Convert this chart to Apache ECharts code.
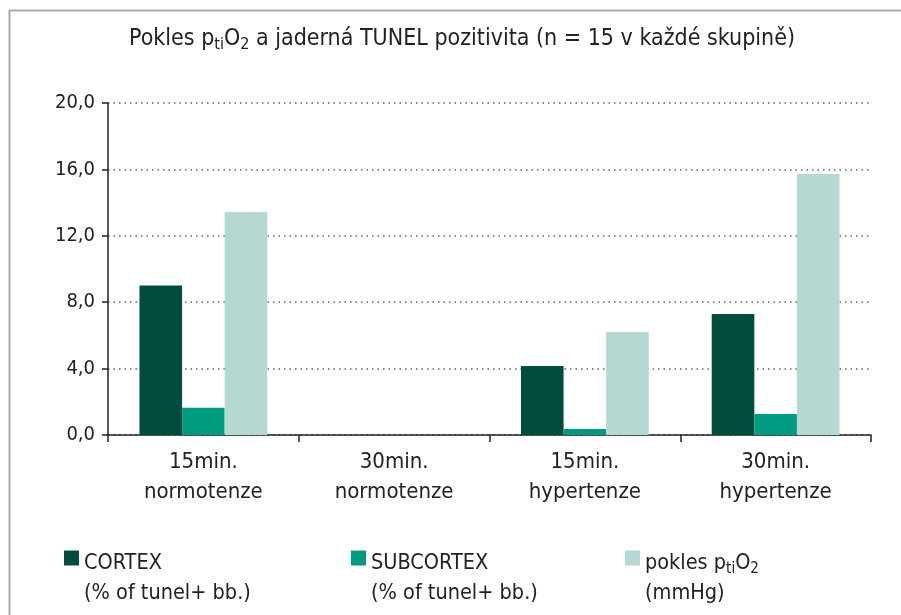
<!DOCTYPE html>
<html>
<head>
<meta charset="utf-8">
<script src="https://cdn.jsdelivr.net/npm/echarts@6/dist/echarts.min.js"></script>
<style>
  html, body { margin: 0; padding: 0; background: #fff; }
  #chart { width: 901px; height: 615px; }
</style>
</head>
<body>
<div id="chart"></div>
<script>
  const categories = ['15min.\nnormotenze', '30min.\nnormotenze', '15min.\nhypertenze', '30min.\nhypertenze']
  const cortex = [9.0, 0, 4.16, 7.29]
  const subcortex = [1.64, 0, 0.36, 1.27]
  const pokles = [13.44, 0, 6.21, 15.72]
  const yTicks = [0, 4, 8, 12, 16, 20]

  const FONT = "'Liberation Sans Narrow', 'DejaVu Sans Condensed', sans-serif"
  const subStyle = { fontSize: 15, padding: [12, 0, 0, 0], color: '#222', fontFamily: FONT }

  const legendBase = {
    top: 503,
    itemWidth: 15,
    itemHeight: 15,
    itemGap: 9,
    icon: 'rect',
    textStyle: {
      fontFamily: FONT,
      fontSize: 21.5,
      color: '#222',
      lineHeight: 30,
      padding: [40, 0, 0, 0],
      rich: { sub: subStyle }
    }
  }

  const myChart = echarts.init(document.getElementById('chart'))
  const option = {
    animation: false,
    backgroundColor: '#fff',
    color: ['#024c3e', '#009c82', '#b5d9d2'],
    title: {
      text: 'Pokles p{sub|ti}O{sub|2} a jaderná TUNEL pozitivita (n = 15 v každé skupině)',
      left: 457,
      textAlign: 'center',
      top: 20,
      textStyle: {
        fontFamily: FONT,
        fontSize: 23,
        fontWeight: 'normal',
        color: '#222',
        rich: { sub: Object.assign({}, subStyle, { fontSize: 16 }) }
      }
    },
    graphic: [
      { type: 'line', shape: { x1: 9, y1: 10.5, x2: 901, y2: 10.5 }, style: { stroke: '#aaa', lineWidth: 2 } },
      { type: 'line', shape: { x1: 9.5, y1: 10, x2: 9.5, y2: 615 }, style: { stroke: '#aaa', lineWidth: 2 } }
    ],
    legend: [
      Object.assign({}, legendBase, {
        left: 59, data: ['CORTEX'],
        formatter: () => 'CORTEX\n(% of tunel+ bb.)'
      }),
      Object.assign({}, legendBase, {
        left: 346, data: ['SUBCORTEX'],
        formatter: () => 'SUBCORTEX\n(% of tunel+ bb.)'
      }),
      Object.assign({}, legendBase, {
        left: 620, data: ['pokles'],
        formatter: () => 'pokles p{sub|ti}O{sub|2}\n(mmHg)'
      })
    ],
    grid: {
      left: 108,
      right: 30,
      top: 103,
      bottom: 180
    },
    xAxis: {
      type: 'category',
      data: categories,
      axisLine: { lineStyle: { color: '#222', width: 1.5 } },
      axisTick: { show: true, length: 7, lineStyle: { color: '#222', width: 1.5 } },
      axisLabel: {
        interval: 0,
        margin: 12,
        fontFamily: FONT,
        fontSize: 22,
        lineHeight: 30,
        color: '#222'
      }
    },
    yAxis: {
      type: 'value',
      min: yTicks[0],
      max: yTicks[yTicks.length - 1],
      interval: yTicks[1] - yTicks[0],
      axisLine: { show: true, lineStyle: { color: '#222', width: 1.5 } },
      axisTick: { show: true, length: 6, lineStyle: { color: '#222', width: 1.5 } },
      axisLabel: {
        margin: 13,
        fontFamily: FONT,
        fontSize: 20,
        color: '#222',
        formatter: v => v.toFixed(1).replace('.', ',')
      },
      splitLine: {
        show: true,
        lineStyle: { color: '#666', type: [1.5, 4], width: 1.5 }
      }
    },
    series: [
      { name: 'CORTEX', type: 'bar', data: cortex, barGap: 0, barCategoryGap: '33%' },
      { name: 'SUBCORTEX', type: 'bar', data: subcortex, barGap: 0, barCategoryGap: '33%' },
      { name: 'pokles', type: 'bar', data: pokles, barGap: 0, barCategoryGap: '33%' }
    ]
  }
  myChart.setOption(option)
</script>
</body>
</html>
